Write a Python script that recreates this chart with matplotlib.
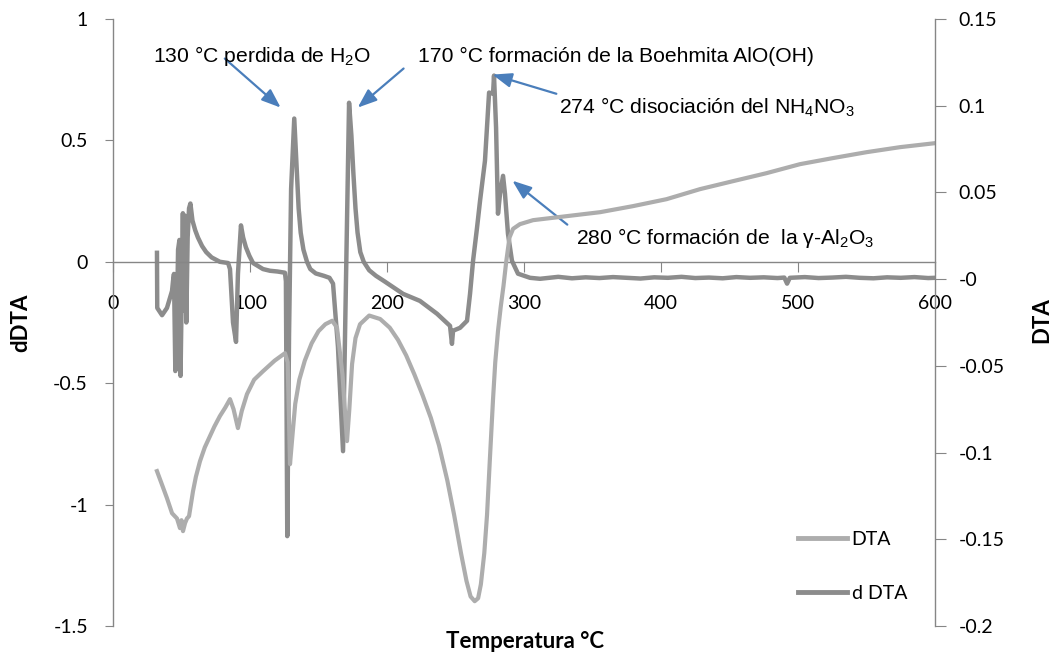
import numpy as np
import matplotlib
matplotlib.use("Agg")
import matplotlib.pyplot as plt
from matplotlib.lines import Line2D
from matplotlib.ticker import FuncFormatter

plt.rcParams["font.family"] = ["Lato", "DejaVu Sans"]
plt.rcParams["axes.unicode_minus"] = False
plt.rcParams["mathtext.fontset"] = "custom"
plt.rcParams["mathtext.rm"] = "Liberation Sans"
plt.rcParams["mathtext.it"] = "Liberation Sans:italic"
plt.rcParams["mathtext.default"] = "rm"

# dDTA (left axis)
temp_ddta = [32.1, 32.3, 35.8, 39.4, 43.1, 43.8, 44.5, 45.5, 46.5, 47.5, 48.5,
             49.3, 50.2, 51.0, 51.8, 52.6, 53.5, 54.5, 55.5, 56.5, 58.0, 60.0,
             62.0, 65.0, 68.0, 72.0, 78.0, 84.0, 85.4, 87.6, 89.8, 91.2, 93.4,
             95.0, 97.0, 99.5, 102.2, 109.5, 114.6, 120.0, 125.5, 126.2, 127.2,
             128.5, 130.0, 132.3, 133.5, 134.5, 135.5, 137.0, 139.0, 141.6,
             144.0, 148.0, 154.0, 158.0, 160.6, 164.2, 167.9, 170.0, 172.3,
             174.0, 175.5, 177.0, 178.5, 180.5, 183.0, 187.0, 192.0, 198.0,
             211.7, 224.0, 236.5, 246.0, 247.4, 248.2, 253.3, 258.4, 260.6,
             262.8, 265.7, 267.9, 271.5, 273.7, 274.5, 277.4, 278.1, 279.6,
             281.0, 282.5, 284.7, 286.1, 288.3, 291.2, 295.6, 304.4, 311.7,
             325, 335, 345, 355, 365, 375, 385, 395, 405, 415, 425, 435, 445,
             455, 465, 475, 485, 490, 492, 494, 505, 515, 525, 535, 545, 555,
             565, 575, 585, 595, 600]
ddta = [0.037, -0.19, -0.22, -0.19, -0.12, -0.08, -0.05, -0.45, -0.30, 0.05,
        0.09, -0.47, -0.10, 0.20, -0.20, 0.19, -0.25, 0.10, 0.22, 0.24, 0.17,
        0.13, 0.10, 0.065, 0.04, 0.018, 0.0, -0.005, -0.03, -0.25, -0.33,
        -0.05, 0.15, 0.10, 0.06, 0.025, -0.005, -0.03, -0.037, -0.040, -0.045,
        -0.08, -1.13, -0.30, 0.30, 0.59, 0.45, 0.33, 0.22, 0.12, 0.05, 0.0,
        -0.03, -0.048, -0.058, -0.066, -0.09, -0.35, -0.78, -0.10, 0.655, 0.52,
        0.36, 0.22, 0.12, 0.04, 0.0, -0.035, -0.058, -0.08, -0.132, -0.161,
        -0.214, -0.264, -0.338, -0.284, -0.272, -0.243, -0.132, 0.004, 0.14,
        0.251, 0.416, 0.622, 0.697, 0.692, 0.767, 0.552, 0.198, 0.28, 0.354,
        0.28, 0.115, 0.004, -0.049, -0.066, -0.070, -0.062, -0.068, -0.064,
        -0.067, -0.063, -0.066, -0.069, -0.064, -0.066, -0.062, -0.067, -0.065,
        -0.068, -0.063, -0.066, -0.064, -0.067, -0.065, -0.09, -0.066, -0.063,
        -0.067, -0.065, -0.062, -0.066, -0.068, -0.064, -0.066, -0.063, -0.067,
        -0.066]

# DTA (right axis)
temp_dta = [32.1, 36.0, 39.4, 43.1, 46.7, 48.9, 50.0, 51.1, 52.6, 54.0, 55.5,
            58.4, 60.5, 63.5, 67.0, 70.5, 74.0, 78.0, 82.0, 85.4, 88.0, 91.2,
            94.0, 97.8, 103.0, 109.5, 118.0, 125.5, 127.5, 129.2, 131.0, 133.0,
            136.0, 140.0, 145.0, 150.0, 155.0, 160.0, 163.5, 167.5, 170.8,
            172.5, 174.5, 177.0, 180.3, 187.0, 195.0, 202.0, 208.0, 214.0,
            220.0, 226.0, 232.0, 238.0, 244.0, 249.0, 254.0, 258.0, 261.0,
            264.0, 266.5, 268.5, 271.0, 273.0, 275.0, 277.4, 279.0, 281.0,
            283.0, 285.0, 287.0, 289.4, 292.0, 297.0, 306.6, 331.0, 355.5,
            379.6, 404.0, 428.5, 452.6, 477.0, 501.5, 525.5, 550.0, 574.5,
            600.0]
dta = [-0.1107, -0.119, -0.1263, -0.135, -0.138, -0.1436, -0.139, -0.1453,
       -0.1407, -0.138, -0.1367, -0.1223, -0.114, -0.105, -0.097, -0.091,
       -0.085, -0.079, -0.074, -0.0692, -0.075, -0.0859, -0.076, -0.0663,
       -0.058, -0.0531, -0.047, -0.0427, -0.048, -0.1067, -0.090, -0.072,
       -0.058, -0.047, -0.037, -0.030, -0.026, -0.024, -0.028, -0.055,
       -0.0934, -0.075, -0.049, -0.034, -0.026, -0.021, -0.023, -0.028,
       -0.035, -0.044, -0.055, -0.067, -0.080, -0.096, -0.116, -0.136,
       -0.158, -0.174, -0.183, -0.1857, -0.184, -0.176, -0.158, -0.136,
       -0.105, -0.069, -0.048, -0.030, -0.016, -0.004, 0.010, 0.024, 0.029,
       0.0317, 0.034, 0.0363, 0.0386, 0.0421, 0.0461, 0.0519, 0.0565, 0.0611,
       0.0663, 0.0698, 0.0732, 0.0761, 0.0784]

dta_color = "#ADADAD"
ddta_color = "#8C8C8C"
axis_color = "#868686"
arrow_color = "#4A7EBB"

fig = plt.figure(figsize=(10.55, 6.57), dpi=100)
ax = fig.add_axes([0.1071, 0.0472, 0.7792, 0.9239])
ax2 = ax.twinx()

ax.plot(temp_ddta, ddta, color=ddta_color, lw=3.2, solid_joinstyle="round")
ax2.plot(temp_dta, dta, color=dta_color, lw=3.0, solid_joinstyle="round")

ax.set_xlim(0, 600)
ax.set_ylim(-1.5, 1)
ax2.set_ylim(-0.2, 0.15)
ax.set_xticks(np.arange(0, 601, 100))
ax.set_yticks(np.arange(-1.5, 1.01, 0.5))
ax2.set_yticks(np.arange(-0.2, 0.151, 0.05))
fmt = FuncFormatter(lambda v, p: "%g" % round(v, 3))
ax.yaxis.set_major_formatter(fmt)
ax2.yaxis.set_major_formatter(fmt)

# axis lines like excel: x axis crossing at dDTA = 0
for a in (ax, ax2):
    a.spines["top"].set_visible(False)
    for s in a.spines.values():
        s.set_color(axis_color)
        s.set_linewidth(1.0)
ax.spines["bottom"].set_position(("data", 0))
ax.spines["right"].set_visible(False)
ax2.spines["bottom"].set_visible(False)
ax2.spines["left"].set_visible(False)

ax.tick_params(axis="x", direction="out", length=7, color=axis_color,
               labelsize=14, pad=17)
ax.tick_params(axis="y", direction="out", length=6, color=axis_color,
               labelsize=14, pad=12)
ax2.tick_params(axis="y", direction="out", length=8, color=axis_color,
                labelsize=14, pad=9)

ax.set_ylabel("dDTA", fontsize=16, fontweight="bold", va="center")
ax.yaxis.set_label_coords(-0.112, 0.5)
ax2.set_ylabel("DTA", fontsize=16, fontweight="bold", va="center",
               rotation=90)
ax2.yaxis.set_label_coords(1.130, 0.504)
fig.text(0.498, 0.024, "Temperatura °C", ha="center", va="center",
         fontsize=16, fontweight="bold")

# annotations (Arial-like)
ann_font = dict(family="Liberation Sans", fontsize=15.2, color="black")
arrow = dict(arrowstyle="-|>,head_length=0.58,head_width=0.22",
             color=arrow_color, lw=1.6, mutation_scale=20,
             shrinkA=0, shrinkB=0)
ax.annotate("", xy=(122.4, 0.635), xytext=(81.6, 0.837), arrowprops=arrow)
ax.annotate("", xy=(178.6, 0.635), xytext=(212.1, 0.796), arrowprops=arrow)
ax.annotate("", xy=(277.0, 0.771), xytext=(323.6, 0.692), arrowprops=arrow)
ax.annotate("", xy=(291.5, 0.334), xytext=(331.6, 0.153), arrowprops=arrow)
ax.text(29.2, 0.8215, "130 °C perdida de H$_2$O", ha="left", va="baseline",
        **ann_font)
ax.text(222.3, 0.824, "170 °C formación de la Boehmita AlO(OH)", ha="left",
        va="baseline", **ann_font)
ax.text(325.8, 0.610, "274 °C disociación del NH$_4$NO$_3$", ha="left",
        va="baseline", **ann_font)
ax.text(338.2, 0.074, "280 °C formación de  la γ-Al$_2$O$_3$", ha="left",
        va="baseline", **ann_font)

handles = [Line2D([], [], color=dta_color, lw=3.5),
           Line2D([], [], color=ddta_color, lw=3.5)]
ax2.legend(handles, ["DTA", "d DTA"], loc="upper left",
           bbox_to_anchor=(0.824, 0.170), frameon=False, fontsize=14,
           handlelength=2.5, handletextpad=0.25, labelspacing=1.9,
           borderaxespad=0)

fig.savefig("out.png", dpi=100)
